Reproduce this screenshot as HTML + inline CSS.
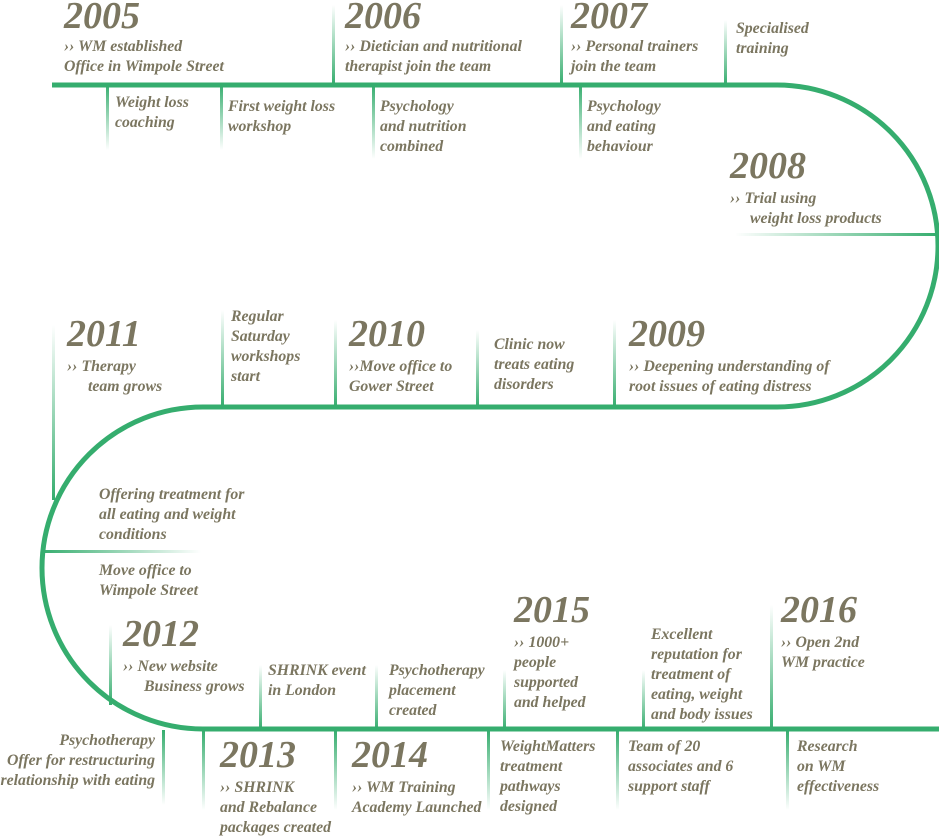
<!DOCTYPE html>
<html><head><meta charset="utf-8"><style>
html,body{margin:0;padding:0;background:#fff;}
svg{display:block}
text{font-family:"Liberation Serif",serif;font-style:italic;font-weight:bold;fill:#7b7660;font-size:15.8px;}
.y{font-size:38px;}
</style></head><body>
<svg width="939" height="837" viewBox="0 0 939 837" xmlns="http://www.w3.org/2000/svg">
<defs>
<linearGradient id="up" x1="0" y1="1" x2="0" y2="0"><stop offset="0" stop-color="#35ad6e"/><stop offset="1" stop-color="#35ad6e" stop-opacity="0"/></linearGradient>
<linearGradient id="dn" x1="0" y1="0" x2="0" y2="1"><stop offset="0" stop-color="#35ad6e"/><stop offset="1" stop-color="#35ad6e" stop-opacity="0"/></linearGradient>
<linearGradient id="lf" x1="1" y1="0" x2="0" y2="0"><stop offset="0" stop-color="#35ad6e"/><stop offset="1" stop-color="#35ad6e" stop-opacity="0"/></linearGradient>
<linearGradient id="rt" x1="0" y1="0" x2="1" y2="0"><stop offset="0" stop-color="#35ad6e"/><stop offset="1" stop-color="#35ad6e" stop-opacity="0"/></linearGradient>
</defs>
<g fill="url(#up)">
<rect x="332" y="5" width="3" height="80"/><rect x="560" y="5" width="3" height="80"/><rect x="724" y="20" width="3" height="65"/>
<rect x="221" y="310" width="3" height="97"/><rect x="334" y="320" width="3" height="87"/><rect x="476" y="330" width="3" height="77"/><rect x="613" y="320" width="3" height="87"/>
<rect x="52" y="325" width="3" height="175"/><rect x="109" y="625" width="3" height="80"/>
<rect x="259" y="665" width="3" height="65"/><rect x="375" y="665" width="3" height="65"/><rect x="503" y="670" width="3" height="60"/><rect x="642" y="670" width="3" height="60"/><rect x="770" y="605" width="3" height="125"/>
</g>
<g fill="url(#dn)">
<rect x="106" y="84" width="3" height="66"/><rect x="220" y="84" width="3" height="66"/><rect x="372" y="84" width="3" height="75"/><rect x="579" y="84" width="3" height="75"/>
<rect x="162" y="730" width="3" height="75"/><rect x="202" y="730" width="3" height="80"/><rect x="334" y="730" width="3" height="80"/><rect x="487" y="730" width="3" height="80"/><rect x="616" y="730" width="3" height="80"/><rect x="786" y="730" width="3" height="80"/>
</g>
<rect x="735" y="233" width="202" height="3" fill="url(#lf)"/>
<rect x="41" y="550" width="160" height="3" fill="url(#rt)"/>
<path d="M52 85 H777 A161 161 0 0 1 777 407 H203 A161 161 0 0 0 203 729 H939" fill="none" stroke="#35ad6e" stroke-width="5"/>

<text class="y" x="64" y="28">2005</text>
<text x="64" y="51">›› WM established</text><text x="64" y="71">Office in Wimpole Street</text>
<text class="y" x="345" y="28">2006</text>
<text x="345" y="51">›› Dietician and nutritional</text><text x="345" y="71">therapist join the team</text>
<text class="y" x="571" y="28">2007</text>
<text x="571" y="51">›› Personal trainers</text><text x="571" y="71">join the team</text>
<text x="736" y="33">Specialised</text><text x="736" y="53">training</text>
<text x="115" y="107">Weight loss</text><text x="115" y="127">coaching</text>
<text x="228" y="111">First weight loss</text><text x="228" y="131">workshop</text>
<text x="380" y="111">Psychology</text><text x="380" y="131">and nutrition</text><text x="380" y="151">combined</text>
<text x="587" y="111">Psychology</text><text x="587" y="131">and eating</text><text x="587" y="151">behaviour</text>
<text class="y" x="730" y="178">2008</text>
<text x="730" y="203">›› Trial using</text><text x="750" y="223">weight loss products</text>

<text class="y" x="67" y="346">2011</text>
<text x="67" y="371">›› Therapy</text><text x="88" y="391">team grows</text>
<text x="231" y="321">Regular</text><text x="231" y="341">Saturday</text><text x="231" y="361">workshops</text><text x="231" y="381">start</text>
<text class="y" x="349" y="346">2010</text>
<text x="349" y="371">››Move office to</text><text x="349" y="391">Gower Street</text>
<text x="494" y="349">Clinic now</text><text x="494" y="369">treats eating</text><text x="494" y="389">disorders</text>
<text class="y" x="629" y="346">2009</text>
<text x="629" y="371">›› Deepening understanding of</text><text x="629" y="391">root issues of eating distress</text>

<text x="99" y="499">Offering treatment for</text><text x="99" y="519">all eating and weight</text><text x="99" y="539">conditions</text>
<text x="99" y="575">Move office to</text><text x="99" y="595">Wimpole Street</text>
<text class="y" x="123" y="646">2012</text>
<text x="123" y="671">›› New website</text><text x="144" y="691">Business grows</text>
<text x="268" y="675">SHRINK event</text><text x="268" y="695">in London</text>
<text x="389" y="675">Psychotherapy</text><text x="389" y="695">placement</text><text x="389" y="715">created</text>
<text class="y" x="514" y="622">2015</text>
<text x="514" y="647">›› 1000+</text><text x="514" y="667">people</text><text x="514" y="687">supported</text><text x="514" y="707">and helped</text>
<text x="651" y="639">Excellent</text><text x="651" y="659">reputation for</text><text x="651" y="679">treatment of</text><text x="651" y="699">eating, weight</text><text x="651" y="719">and body issues</text>
<text class="y" x="781" y="622">2016</text>
<text x="781" y="647">›› Open 2nd</text><text x="781" y="667">WM practice</text>

<g text-anchor="end"><text x="155" y="745">Psychotherapy</text><text x="155" y="765">Offer for restructuring</text><text x="155" y="785">relationship with eating</text></g>
<text class="y" x="220" y="767">2013</text>
<text x="220" y="792">›› SHRINK</text><text x="220" y="812">and Rebalance</text><text x="220" y="832">packages created</text>
<text class="y" x="352" y="767">2014</text>
<text x="352" y="792">›› WM Training</text><text x="352" y="812">Academy Launched</text>
<text x="500" y="751">WeightMatters</text><text x="500" y="771">treatment</text><text x="500" y="791">pathways</text><text x="500" y="811">designed</text>
<text x="628" y="751">Team of 20</text><text x="628" y="771">associates and 6</text><text x="628" y="791">support staff</text>
<text x="797" y="751">Research</text><text x="797" y="771">on WM</text><text x="797" y="791">effectiveness</text>
</svg>
</body></html>
